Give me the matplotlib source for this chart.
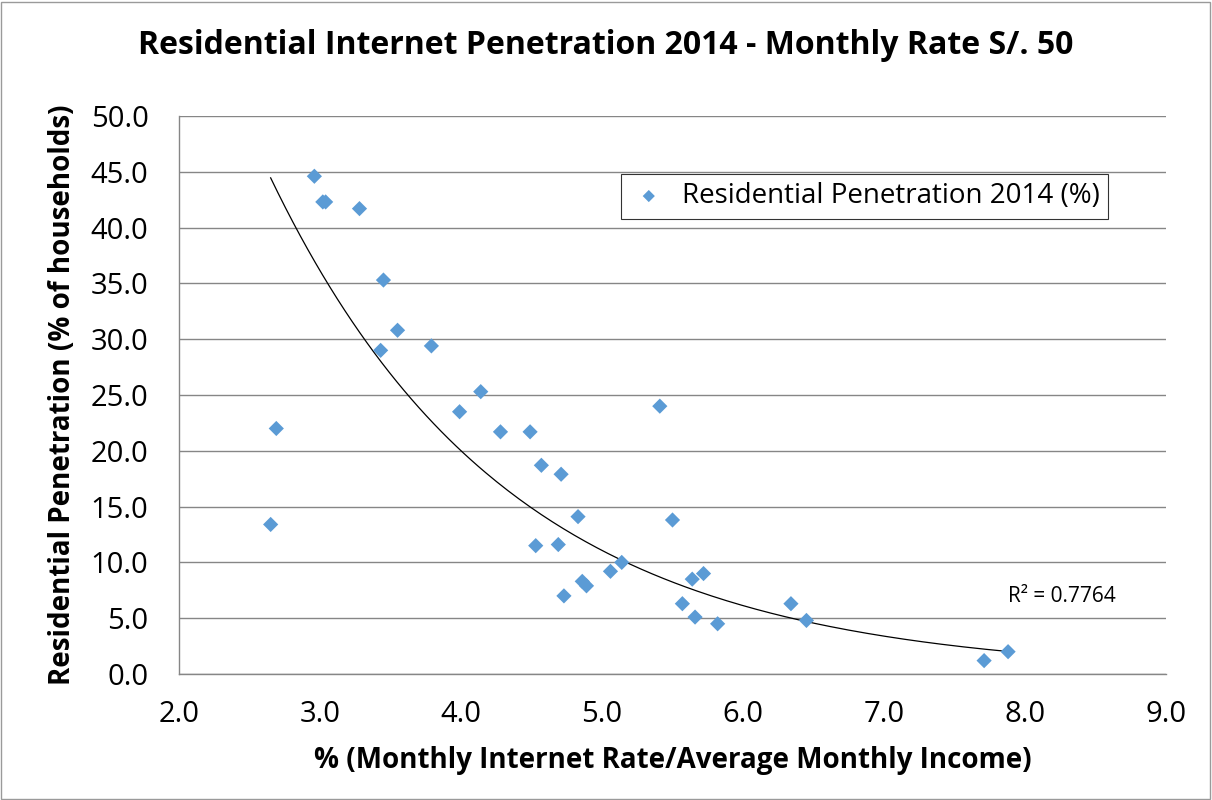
import numpy as np
import matplotlib
matplotlib.use("Agg")
import matplotlib.pyplot as plt
from matplotlib.patches import Rectangle

plt.rcParams['font.family'] = ['Open Sans', 'DejaVu Sans']

x_ratio = [2.65, 2.69, 2.96, 3.02, 3.04, 3.28, 3.45, 3.55, 3.43, 3.79, 4.14,
           3.99, 4.28, 4.49, 4.57, 4.71, 5.41, 4.83, 5.50, 4.53, 4.69, 5.14,
           5.06, 4.86, 4.89, 4.73, 5.64, 5.72, 5.57, 5.66, 5.82, 6.34, 6.45,
           7.71, 7.88]
y_pen = [13.4, 22.0, 44.6, 42.3, 42.3, 41.7, 35.3, 30.8, 29.0, 29.4, 25.3,
         23.5, 21.7, 21.7, 18.7, 17.9, 24.0, 14.1, 13.8, 11.5, 11.6, 10.0,
         9.2, 8.3, 7.9, 7.0, 8.5, 9.0, 6.3, 5.1, 4.5, 6.3, 4.8,
         1.2, 2.0]
series_label = "Residential Penetration 2014 (%)"
r2_text = "R² = 0.7764"
title = "Residential Internet Penetration 2014 - Monthly Rate S/. 50"
xlabel = "% (Monthly Internet Rate/Average Monthly Income)"
ylabel = "Residential Penetration (% of households)"

x = np.array(x_ratio)
y = np.array(y_pen)
b, lna = np.polyfit(x, np.log(y), 1)
xf = np.linspace(x.min(), x.max(), 200)
yf = np.exp(lna) * np.exp(b * xf)

W, H = 1212, 800
fig = plt.figure(figsize=(W / 100, H / 100), dpi=100)
ax = fig.add_axes([179 / W, 1 - 674 / H, (1166 - 179) / W, (674 - 116) / H])

grid_c = '#868686'
ax.set_xlim(2.0, 9.0)
ax.set_ylim(0.0, 50.0)
ax.set_xticks(np.arange(2.0, 9.01, 1.0))
ax.set_yticks(np.arange(0.0, 50.01, 5.0))
ax.set_xticklabels([f"{v:.1f}" for v in np.arange(2.0, 9.01, 1.0)])
ax.set_yticklabels([f"{v:.1f}" for v in np.arange(0.0, 50.01, 5.0)])
ax.yaxis.grid(True, color=grid_c, linewidth=1.0)
ax.set_axisbelow(True)
for s in ['top', 'right']:
    ax.spines[s].set_visible(False)
for s in ['left', 'bottom']:
    ax.spines[s].set_color(grid_c)
    ax.spines[s].set_linewidth(1.0)
ax.tick_params(length=0, labelsize=21, colors='#000000')
ax.tick_params(axis='x', pad=19)
ax.tick_params(axis='y', pad=22)

ax.plot(xf, yf, color='black', linewidth=0.9, zorder=2)
ax.scatter(x, y, marker='D', s=60, color='#5B9BD5', edgecolors='none',
           zorder=3, label=series_label)

ax.set_xlabel(xlabel, fontsize=20, fontweight='bold', labelpad=12)
ax.set_ylabel(ylabel, fontsize=20, fontweight='bold', labelpad=10)
fig.text(0.5, 1 - 45 / H, title, ha='center', va='center', fontsize=23,
         fontweight='bold')
ax.text(7.88, 6.9, r2_text, fontsize=15, ha='left', va='center')

leg = ax.legend(loc='upper left', bbox_to_anchor=((621 - 179) / (1166 - 179), 1 - (174 - 116) / 558),
                fontsize=20, frameon=True, fancybox=False, edgecolor='black',
                handlelength=1.4, handletextpad=0.5, borderpad=0.3, markerscale=0.8,
                borderaxespad=0)
leg.get_frame().set_linewidth(0.8)

fig.patches.append(Rectangle((1 / W, 1 / H), 1 - 3 / W, 1 - 3 / H, transform=fig.transFigure,
                             fill=False, edgecolor='#9a9a9a', linewidth=1.0))

fig.savefig('out.png', dpi=100)
